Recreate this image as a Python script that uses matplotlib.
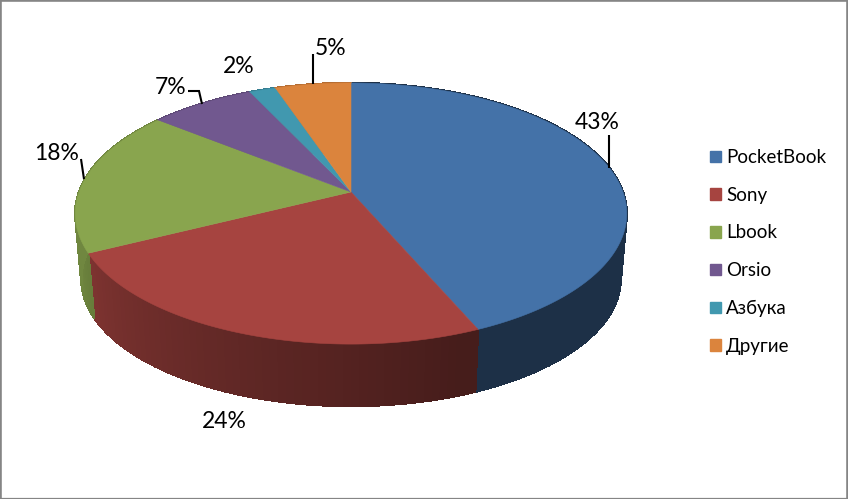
import numpy as np
import matplotlib
matplotlib.use("Agg")
import matplotlib.pyplot as plt
from matplotlib.patches import Patch, Polygon
from matplotlib.collections import PolyCollection
from matplotlib.colors import to_rgb

plt.rcParams['font.family'] = ['Lato', 'Open Sans', 'DejaVu Sans']

categories = ["PocketBook", "Sony", "Lbook", "Orsio", "Азбука", "Другие"]
shares = [43.49, 24.1, 18.1, 7.25, 1.8, 5.2]
colors = ["#4472A8", "#A64440", "#89A54E", "#71588F", "#4198AF", "#DB843D"]

# label placement in pixels: text centre, leader polyline
label_pos = [(597, 122), (224, 422), (57, 153), (171, 87), (239, 66), (331, 48)]
leaders = [[(608.5, 135), (608.5, 168)], None, [(81, 159), (84, 179)],
           [(188, 91), (199, 91), (202, 104)], None, [(313, 54), (313, 84)]]

CX = 351.0
PERSP = 0.165

def top_rim(theta):
    u, v = np.sin(theta), np.cos(theta)
    w = 1 + PERSP * v
    return CX + 272 * u / w, 192 - 127 * v / w

def bottom_rim(theta):
    u, v = np.sin(theta), np.cos(theta)
    w = 1 + PERSP * v
    return CX + 266 * u / w, 258 - 123.6 * v / w

def shade(theta):
    d = np.degrees(theta)
    return float(np.clip(0.42 + (d - 160) / 100 * 0.40, 0.42, 0.82))

fig = plt.figure(figsize=(8.48, 4.99), dpi=100)
ax = fig.add_axes([0, 0, 1, 1])
ax.set_xlim(0, 848)
ax.set_ylim(499, 0)
ax.set_xticks([])
ax.set_yticks([])
for s in ax.spines.values():
    s.set_color("#858585")
    s.set_linewidth(2.6)
ax.spines['bottom'].set_linewidth(1.6)

fractions = np.array(shares) / np.sum(shares)
edges = np.concatenate([[0], np.cumsum(fractions)]) * 2 * np.pi

# walls
for i, col in enumerate(colors):
    base = np.array(to_rgb(col))
    th = np.linspace(edges[i], edges[i + 1], max(3, int((edges[i + 1] - edges[i]) * 40)))
    quads, cols = [], []
    for a, b in zip(th[:-1], th[1:]):
        x0, y0 = top_rim(a); x1, y1 = top_rim(b)
        x2, y2 = bottom_rim(b); x3, y3 = bottom_rim(a)
        quads.append([(x0, y0), (x1, y1), (x2, y2), (x3, y3)])
        cols.append(tuple(base * shade((a + b) / 2)))
    ax.add_collection(PolyCollection(quads, facecolors=cols, edgecolors=cols,
                                     linewidths=1.0, antialiaseds=False))

# top face
for i, col in enumerate(colors):
    th = np.linspace(edges[i], edges[i + 1], 200)
    xs, ys = top_rim(th)
    pts = np.column_stack([np.r_[CX, xs], np.r_[192, ys]])
    ax.add_patch(Polygon(pts, closed=True, facecolor=col, edgecolor=col, linewidth=0.4))

# labels
for v, pos, lead in zip(shares, label_pos, leaders):
    ax.text(pos[0], pos[1], f"{v:.0f}%", ha="center", va="center", fontsize=16.5, color="black")
    if lead:
        ax.plot(*zip(*lead), color="black", lw=1.5, solid_capstyle="butt", solid_joinstyle="miter")

handles = [Patch(facecolor=c, edgecolor=c) for c in colors]
ax.legend(handles, categories, loc="upper left", bbox_to_anchor=(710, 149),
          bbox_transform=ax.transData, frameon=False, fontsize=13.5,
          handlelength=0.575, handleheight=0.575, handletextpad=0.27,
          labelspacing=1.105, borderpad=0, borderaxespad=0)

fig.savefig("out.png", dpi=100)
